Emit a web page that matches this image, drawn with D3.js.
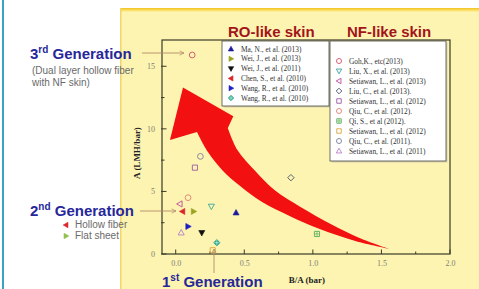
<!DOCTYPE html>
<html>
<head>
<meta charset="utf-8">
<script src="https://cdn.jsdelivr.net/npm/d3@7"></script>
<style>
  body { margin: 0; background: #fff; }
  svg { display: block; }
  .tick text { font-family: "Liberation Serif", "DejaVu Serif", serif; }
</style>
</head>
<body>
<svg id="chart" width="479" height="289"></svg>
<script>
'use strict';

// RO-like skin studies (filled markers)
var roLabels = ['Ma, N., et al. (2013)', 'Wei, J., et al. (2013)', 'Wei, J., et al. (2011)',
                'Chen, S., et al. (2010)', 'Wang, R., et al. (2010)', 'Wang, R., et al. (2010)'];
var roX = [0.44, 0.13, 0.19, 0.05, 0.09, 0.30];
var roY = [3.3, 3.4, 1.7, 3.4, 2.2, 0.9];

// NF-like skin studies (open markers)
var nfLabels = ['Goh,K., etc(2013)', 'Liu, X., et al. (2013)', 'Setiawan, L., et al. (2013)',
                'Liu, C., et al. (2013).', 'Setiawan, L., et al. (2012)', 'Qiu, C., et al. (2012).',
                'Qi, S., et al (2012).', 'Setiawan, L., et al. (2012)', 'Qiu, C., et al. (2011).',
                'Setiawan, L., et al. (2011)'];
var nfX = [0.12, 0.26, 0.03, 0.84, 0.14, 0.09, 1.03, 0.27, 0.18, 0.04];
var nfY = [15.9, 3.8, 4.0, 6.1, 6.9, 4.5, 1.6, 0.3, 7.8, 1.7];

var xTicks = [0.0, 0.5, 1.0, 1.5, 2.0];
var yTicks = [0, 5, 10, 15];

// big red trend arrow, in data units (upper edge, head, lower edge)
var arrowUpper = [[1.56, 0.4], [1.34, 1.28], [1.13, 2.4], [0.91, 3.76], [0.72, 5.11],
                  [0.58, 6.63], [0.45, 8.31], [0.38, 10.07]];
var arrowHead  = [[0.42, 11.0], [0.053, 13.3], [-0.042, 9.1]];
var arrowLower = [[0.155, 9.75], [0.235, 8.15], [0.34, 6.7], [0.47, 5.43], [0.63, 4.15],
                  [0.83, 3.04], [1.05, 2.0], [1.31, 1.04], [1.56, 0.4]];

var roStyle = [
  { type: 'up',      color: '#1c1c9c' },
  { type: 'right',   color: '#9aa21e' },
  { type: 'down',    color: '#111111' },
  { type: 'left',    color: '#d8262a' },
  { type: 'right',   color: '#1f1fc0' },
  { type: 'diamond', color: '#1f9a84' }
];
var nfStyle = [
  { type: 'circle',  color: '#d2506a' },
  { type: 'down',    color: '#3aa6a0' },
  { type: 'left',    color: '#c04a9a' },
  { type: 'diamond', color: '#46506e' },
  { type: 'square',  color: '#9a5aa6' },
  { type: 'circle',  color: '#e07f72' },
  { type: 'sqcross', color: '#5aae5a' },
  { type: 'square',  color: '#d9a640' },
  { type: 'circle',  color: '#7b7f98' },
  { type: 'up',      color: '#b680c4' }
];

var svg = d3.select('#chart');

var serif = '"Liberation Serif", "DejaVu Serif", serif'
  , sans = '"Liberation Sans", Arial, sans-serif';

// page decoration
svg.append('rect').attr('x', 0).attr('y', 0).attr('width', 479).attr('height', 289).attr('fill', '#fff');
svg.append('rect').attr('x', 2).attr('y', 0).attr('width', 2).attr('height', 289).attr('fill', '#3aa3c4');

var defs = svg.append('defs');
var grad = defs.append('linearGradient')
  .attr('id', 'panelTop').attr('x1', 0).attr('x2', 0).attr('y1', 0).attr('y2', 1);
grad.append('stop').attr('offset', '0').attr('stop-color', '#f3c21a');
grad.append('stop').attr('offset', '1').attr('stop-color', '#fff3a6');

svg.append('rect').attr('x', 120).attr('y', 8).attr('width', 359).attr('height', 281).attr('fill', '#fdf4b2');
svg.append('rect').attr('x', 120).attr('y', 8).attr('width', 359).attr('height', 4).attr('fill', 'url(#panelTop)');
svg.append('rect').attr('x', 120).attr('y', 8).attr('width', 1.5).attr('height', 281).attr('fill', '#f1d66a');

var x = d3.scaleLinear().domain([-0.1, 2.0]).range([162, 450]);
var y = d3.scaleLinear().domain([0, 17.1]).range([254, 40]);

// frame
svg.append('rect')
  .attr('x', x.range()[0]).attr('y', y.range()[1])
  .attr('width', x.range()[1] - x.range()[0]).attr('height', y.range()[0] - y.range()[1])
  .attr('fill', 'none').attr('stroke', '#3a3a2a').attr('stroke-width', 1.2);

// minor + major ticks, drawn inward
var xMinor = d3.range(0, 2.01, 0.25), yMinor = d3.range(0, 17, 2.5);
svg.append('g').selectAll('line').data(xMinor).join('line')
  .attr('x1', function(d){ return x(d); }).attr('x2', function(d){ return x(d); })
  .attr('y1', y(0)).attr('y2', function(d, i){ return y(0) - (i % 2 ? 2.5 : 4.5); })
  .attr('stroke', '#3a3a2a');
svg.append('g').selectAll('line').data(yMinor).join('line')
  .attr('y1', function(d){ return y(d); }).attr('y2', function(d){ return y(d); })
  .attr('x1', x(-0.1) - 1).attr('x2', function(d, i){ return x(-0.1) + (i % 2 ? 2.5 : 4.5); })
  .attr('stroke', '#3a3a2a');

var xAxis = svg.append('g').attr('transform', 'translate(0,' + y(0) + ')')
  .call(d3.axisBottom(x).tickValues(xTicks).tickFormat(d3.format('.1f')).tickSize(0).tickPadding(6));
var yAxis = svg.append('g').attr('transform', 'translate(' + x(-0.1) + ',0)')
  .call(d3.axisLeft(y).tickValues(yTicks).tickSize(0).tickPadding(7));
[xAxis, yAxis].forEach(function(a){
  a.select('.domain').remove();
  a.selectAll('text').attr('fill', '#808074').style('font-size', '8px');
});

svg.append('text').attr('x', 307).attr('y', 283).attr('text-anchor', 'middle')
  .style('font-family', serif).style('font-size', '9px').style('font-weight', 'bold')
  .attr('fill', '#222').text('B/A (bar)');
svg.append('text').attr('transform', 'translate(140,' + ((y(0) + y(17.1)) / 2 + 6) + ') rotate(-90)')
  .attr('text-anchor', 'middle')
  .style('font-family', serif).style('font-size', '9px').style('font-weight', 'bold')
  .attr('fill', '#222').text('A (LMH/bar)');

// red trend arrow
var edge = d3.line().x(function(d){ return x(d[0]); }).y(function(d){ return y(d[1]); }).curve(d3.curveCatmullRom);
var straight = d3.line().x(function(d){ return x(d[0]); }).y(function(d){ return y(d[1]); });
var arrowPath = edge(arrowUpper)
  + straight(arrowHead).replace('M', 'L')
  + edge(arrowLower).replace('M', 'L') + 'Z';
svg.append('path').attr('d', arrowPath).attr('fill', '#f21010');

// markers
function marker(g, type, color, filled, s){
  s = s || 3.2;
  var d, t = '';
  var tri = 'M0,' + (-s) + 'L' + (s * 0.95) + ',' + (s * 0.7) + 'L' + (-s * 0.95) + ',' + (s * 0.7) + 'Z';
  if (type == 'up') d = tri;
  if (type == 'down') { d = tri; t = 'rotate(180)'; }
  if (type == 'left') { d = tri; t = 'rotate(-90)'; }
  if (type == 'right') { d = tri; t = 'rotate(90)'; }
  if (type == 'diamond') d = 'M0,' + (-s) + 'L' + s + ',0L0,' + s + 'L' + (-s) + ',0Z';
  if (type == 'square' || type == 'sqcross') d = 'M' + (-s * 0.8) + ',' + (-s * 0.8) + 'h' + (s * 1.6) + 'v' + (s * 1.6) + 'h' + (-s * 1.6) + 'Z';
  if (type == 'circle') d = 'M' + (-s * 0.9) + ',0a' + (s * 0.9) + ',' + (s * 0.9) + ' 0 1,0 ' + (s * 1.8) + ',0a' + (s * 0.9) + ',' + (s * 0.9) + ' 0 1,0 ' + (-s * 1.8) + ',0Z';
  g.append('path').attr('d', d).attr('transform', t)
    .attr('fill', filled ? color : 'none').attr('stroke', color).attr('stroke-width', filled ? 0.6 : 0.9);
  if (type == 'sqcross' || (type == 'diamond' && filled)) {
    g.append('path').attr('d', 'M' + (-s * 0.8) + ',0h' + (s * 1.6) + 'M0,' + (-s * 0.8) + 'v' + (s * 1.6))
      .attr('stroke', filled ? '#cfe' : color).attr('stroke-width', 0.7);
  }
}

var pts = svg.append('g');
nfX.forEach(function(v, i){
  marker(pts.append('g').attr('transform', 'translate(' + x(v) + ',' + y(nfY[i]) + ')'),
         nfStyle[i].type, nfStyle[i].color, false);
});
roX.forEach(function(v, i){
  marker(pts.append('g').attr('transform', 'translate(' + x(v) + ',' + y(roY[i]) + ')'),
         roStyle[i].type, roStyle[i].color, true);
});

// legends
function legend(left, top, w, h, labels, styles, filled, step, first){
  var g = svg.append('g');
  g.append('rect').attr('x', left + 1.5).attr('y', top + 1.5).attr('width', w).attr('height', h).attr('fill', '#d8d2b0');
  g.append('rect').attr('x', left).attr('y', top).attr('width', w).attr('height', h)
    .attr('fill', '#fff').attr('stroke', '#4a4a40').attr('stroke-width', 0.8);
  labels.forEach(function(l, i){
    var yy = top + first + i * step;
    marker(g.append('g').attr('transform', 'translate(' + (left + 9) + ',' + yy + ')'), styles[i].type, styles[i].color, filled, 2.8);
    g.append('text').attr('x', left + 19).attr('y', yy + 2.5)
      .style('font-family', serif).style('font-size', '7.4px').attr('fill', '#333').text(l);
  });
}
legend(222, 41, 107, 65, roLabels, roStyle, true, 9.8, 8);
legend(330, 41, 116, 120, nfLabels, nfStyle, false, 10, 20);

svg.append('text').attr('x', 228).attr('y', 37).style('font-family', sans).style('font-weight', 'bold')
  .style('font-size', '15px').attr('fill', '#a3141a').text('RO-like skin');
svg.append('text').attr('x', 347).attr('y', 37).style('font-family', sans).style('font-weight', 'bold')
  .style('font-size', '15px').attr('fill', '#a3141a').text('NF-like skin');

// generation annotations
function generation(px, py, num, sup){
  var t = svg.append('text').attr('x', px).attr('y', py)
    .style('font-family', sans).style('font-weight', 'bold').style('font-size', '15px').attr('fill', '#27279a');
  t.append('tspan').text(num);
  t.append('tspan').attr('dy', -6).style('font-size', '10px').text(sup);
  t.append('tspan').attr('dy', 6).text(' Generation');
}
defs.append('marker').attr('id', 'head').attr('viewBox', '0 0 10 10').attr('refX', 9).attr('refY', 5)
  .attr('markerWidth', 6).attr('markerHeight', 6).attr('orient', 'auto')
  .append('path').attr('d', 'M1,1L9,5L1,9').attr('fill', 'none').attr('stroke', '#b08a68').attr('stroke-width', 1.3);
function pointer(x1, y1, x2, y2){
  svg.append('line').attr('x1', x1).attr('y1', y1).attr('x2', x2).attr('y2', y2)
    .attr('stroke', '#b08a68').attr('stroke-width', 0.9).attr('marker-end', 'url(#head)');
}

generation(30, 59, '3', 'rd');
pointer(142, 53, 184, 53);
svg.append('text').attr('x', 32).attr('y', 74).style('font-family', sans).style('font-size', '10px').attr('fill', '#6a6a6a').text('(Dual layer hollow fiber');
svg.append('text').attr('x', 32).attr('y', 86).style('font-family', sans).style('font-size', '10px').attr('fill', '#6a6a6a').text('with NF skin)');

generation(30, 216, '2', 'nd');
pointer(140, 211, 176, 211);
marker(svg.append('g').attr('transform', 'translate(66,225)'), 'left', '#d8262a', true, 2.8);
marker(svg.append('g').attr('transform', 'translate(66,236)'), 'right', '#8fbf4a', true, 2.8);
svg.append('text').attr('x', 75).attr('y', 228).style('font-family', sans).style('font-size', '10px').attr('fill', '#6a6a6a').text('Hollow fiber');
svg.append('text').attr('x', 75).attr('y', 239).style('font-family', sans).style('font-size', '10px').attr('fill', '#6a6a6a').text('Flat sheet');

generation(162, 287, '1', 'st');
pointer(214, 273, 214, 249);
</script>
</body>
</html>
